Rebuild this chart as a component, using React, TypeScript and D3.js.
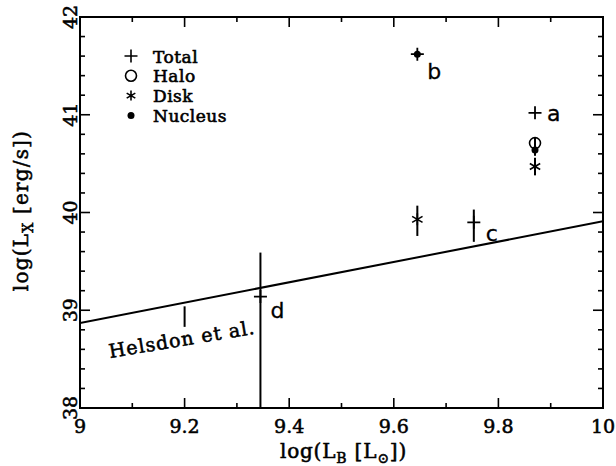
import React from "react";
import * as d3 from "d3";

// ---- data ----
const xTicksMajor = [9, 9.2, 9.4, 9.6, 9.8, 10];
const xTickLabels = ["9", "9.2", "9.4", "9.6", "9.8", "10"];
const yTicksMajor = [38, 39, 40, 41, 42];
const yTickLabels = ["38", "39", "40", "41", "42"];

const galaxyNames = ["a", "b", "c", "d"];
const totalX = [9.87, 9.645, 9.753, 9.345];
const totalY = [41.02, 41.62, 39.9, 39.14];
const totalLo = [null, null, 39.7, 37.5];
const totalHi = [null, null, 40.03, 39.59];

const haloX = [9.87];
const haloY = [40.71];
const haloLo = [40.66];
const haloHi = [40.77];

const diskX = [9.87, 9.645];
const diskY = [40.47, 39.93];
const diskLo = [40.38, 39.76];
const diskHi = [40.56, 40.07];

const nucleusX = [9.87, 9.645];
const nucleusY = [40.64, 41.62];
const nucleusLo = [40.58, null];
const nucleusHi = [40.7, null];

const helsdonX = [9, 10];
const helsdonY = [38.87, 39.91];
const helsdonErrX = [9.2];
const helsdonErrLo = [38.83];
const helsdonErrHi = [39.04];

const legendLabels = ["Total", "Halo", "Disk", "Nucleus"];

// ---- layout ----
const W = 616;
const H = 466;
const L = 80, R = 603, T = 17, B = 408;
const FONT = "'DejaVu Serif'";
const FS = 19;
const TXT = { fontFamily: FONT, fill: "#000", stroke: "#000", strokeWidth: 0.55 } as const;

const x = d3.scaleLinear().domain([9, 10]).range([L, R]);
const y = d3.scaleLinear().domain([38, 42]).range([B, T]);

const plus = (cx: number, cy: number, s = 6.5) =>
  `M${cx - s},${cy}H${cx + s}M${cx},${cy - s}V${cy + s}`;
const star = (cx: number, cy: number, s = 6) => {
  let p = `M${cx},${cy - s}V${cy + s}`;
  [30, 150].forEach((a) => {
    const r = (a * Math.PI) / 180;
    const dx = Math.cos(r) * s, dy = Math.sin(r) * s;
    p += `M${cx - dx},${cy - dy}L${cx + dx},${cy + dy}`;
  });
  return p;
};

export default function App() {
  const minorX = d3.range(9, 10.0001, 0.1).filter((v) => !xTicksMajor.some((m) => Math.abs(m - v) < 1e-6));
  const minorY = d3.range(38, 42.0001, 0.2).filter((v) => !yTicksMajor.some((m) => Math.abs(m - v) < 1e-6));
  const line = d3.line<number>().x((_, i) => x(helsdonX[i])).y((d) => y(d));
  const labelOffsets: Record<string, [number, number]> = { a: [12, 8], b: [10, 25], c: [12, 19], d: [10, 21] };
  const helsAngle = (Math.atan2(y(helsdonY[1]) - y(helsdonY[0]), x(helsdonX[1]) - x(helsdonX[0])) * 180) / Math.PI;

  const errBar = (xv: number, lo: number | null, hi: number | null, k: string) =>
    lo == null || hi == null ? null : (
      <line key={k} x1={x(xv)} x2={x(xv)} y1={y(lo)} y2={y(hi)} stroke="#000" strokeWidth={2} />
    );

  return (
    <svg width={W} height={H} style={{ position: "absolute", left: 0, top: 0, background: "#fff" }}>
      <defs>
        <clipPath id="plot">
          <rect x={L} y={T} width={R - L} height={B - T} />
        </clipPath>
      </defs>
      <rect x={0} y={0} width={W} height={H} fill="#fff" />

      {/* ticks */}
      <g stroke="#000" strokeWidth={1.6}>
        {xTicksMajor.map((v) => (
          <g key={"xM" + v}>
            <line x1={x(v)} x2={x(v)} y1={B} y2={B - 10} />
            <line x1={x(v)} x2={x(v)} y1={T} y2={T + 10} />
          </g>
        ))}
        {minorX.map((v) => (
          <g key={"xm" + v}>
            <line x1={x(v)} x2={x(v)} y1={B} y2={B - 5} />
            <line x1={x(v)} x2={x(v)} y1={T} y2={T + 5} />
          </g>
        ))}
        {yTicksMajor.map((v) => (
          <g key={"yM" + v}>
            <line x1={L} x2={L + 10} y1={y(v)} y2={y(v)} />
            <line x1={R} x2={R - 10} y1={y(v)} y2={y(v)} />
          </g>
        ))}
        {minorY.map((v) => (
          <g key={"ym" + v}>
            <line x1={L} x2={L + 5} y1={y(v)} y2={y(v)} />
            <line x1={R} x2={R - 5} y1={y(v)} y2={y(v)} />
          </g>
        ))}
      </g>

      {/* data */}
      <g clipPath="url(#plot)">
        <path d={line(helsdonY) || ""} fill="none" stroke="#000" strokeWidth={2} />
        {helsdonErrX.map((v, i) => errBar(v, helsdonErrLo[i], helsdonErrHi[i], "he" + i))}
        {totalX.map((v, i) => errBar(v, totalLo[i], totalHi[i], "te" + i))}
        {haloX.map((v, i) => errBar(v, haloLo[i], haloHi[i], "ha" + i))}
        {diskX.map((v, i) => errBar(v, diskLo[i], diskHi[i], "de" + i))}
        {nucleusX.map((v, i) => errBar(v, nucleusLo[i], nucleusHi[i], "ne" + i))}
        {totalX.map((v, i) => (
          <path key={"t" + i} d={plus(x(v), y(totalY[i]))} stroke="#000" strokeWidth={1.8} fill="none" />
        ))}
        {haloX.map((v, i) => (
          <circle key={"h" + i} cx={x(v)} cy={y(haloY[i])} r={5.5} fill="none" stroke="#000" strokeWidth={1.6} />
        ))}
        {diskX.map((v, i) => (
          <path key={"d" + i} d={star(x(v), y(diskY[i]))} stroke="#000" strokeWidth={1.6} fill="none" />
        ))}
        {nucleusX.map((v, i) => (
          <circle key={"n" + i} cx={x(v)} cy={y(nucleusY[i])} r={3.5} fill="#000" />
        ))}
      </g>

      {/* frame */}
      <rect x={L} y={T} width={R - L} height={B - T} fill="none" stroke="#000" strokeWidth={2} />

      {/* galaxy labels */}
      {galaxyNames.map((g, i) => (
        <text key={g} x={x(totalX[i]) + labelOffsets[g][0]} y={y(totalY[i]) + labelOffsets[g][1]}
          fontFamily="'DejaVu Sans'" fontSize={22} stroke="#000" strokeWidth={0.3}>{g}</text>
      ))}

      {/* Helsdon label */}
      <text transform={`translate(110,358) rotate(${helsAngle + 1.5})`} {...TXT} fontSize={FS}
        textLength={147} lengthAdjust="spacing">
        Helsdon et al.
      </text>

      {/* tick labels */}
      <g {...TXT} fontSize={FS}>
        {xTicksMajor.map((v, i) => (
          <text key={"xl" + v} x={x(v)} y={433} textAnchor="middle">{xTickLabels[i]}</text>
        ))}
        {yTicksMajor.map((v, i) => (
          <text key={"yl" + v} transform={`translate(77,${y(v)}) rotate(-90)`} textAnchor="middle">{yTickLabels[i]}</text>
        ))}
      </g>

      {/* axis titles */}
      <text x={(L + R) / 2 + 2} y={458} textAnchor="middle" {...TXT} fontSize={20} letterSpacing={0.8}>
        log(L<tspan fontSize={14} dy={5}>B</tspan><tspan dy={-5}> [L</tspan>
        <tspan fontSize={14} dy={5}>⊙</tspan><tspan dy={-5}>])</tspan>
      </text>
      <text transform={`translate(28,${(T + B) / 2 - 2}) rotate(-90)`} textAnchor="middle" {...TXT} fontSize={20} letterSpacing={1.2}>
        log(L<tspan fontSize={14} dy={5}>X</tspan><tspan dy={-5}> [erg/s])</tspan>
      </text>

      {/* legend */}
      <g>
        {legendLabels.map((lab, i) => {
          const cy = 56 + i * 19.8;
          const cx = 131;
          let mark: React.ReactNode = null;
          if (i === 0) mark = <path d={plus(cx, cy)} stroke="#000" strokeWidth={1.6} fill="none" />;
          if (i === 1) mark = <circle cx={cx} cy={cy} r={5.5} fill="none" stroke="#000" strokeWidth={1.6} />;
          if (i === 2) mark = <path d={star(cx, cy, 5)} stroke="#000" strokeWidth={1.6} fill="none" />;
          if (i === 3) mark = <circle cx={cx} cy={cy} r={3.5} fill="#000" />;
          return (
            <g key={lab}>
              {mark}
              <text x={153} y={cy + 6.5} {...TXT} strokeWidth={0.6} fontSize={17} letterSpacing={0.5}>{lab}</text>
            </g>
          );
        })}
      </g>
    </svg>
  );
}
